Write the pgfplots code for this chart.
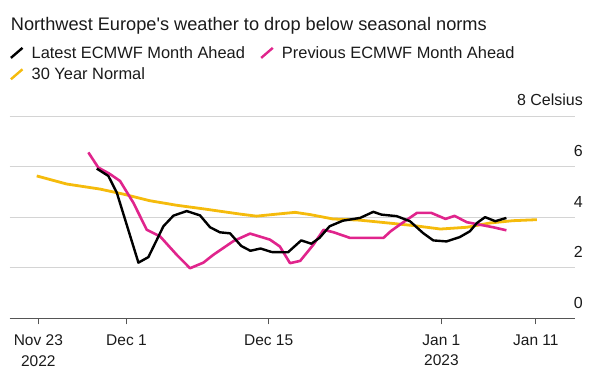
\documentclass[border=0pt]{standalone}
\usepackage{fontspec}
\setmainfont{Liberation Sans}
\usepackage{pgfplots}
\pgfplotsset{compat=1.18}
\definecolor{txt}{HTML}{1A1A1A}
\definecolor{pinkc}{RGB}{224,36,140}
\definecolor{yell}{RGB}{245,187,12}
\definecolor{gridc}{RGB}{212,212,212}
\definecolor{axc}{RGB}{85,85,85}

\pgfplotstableread{
x y
-2.92 5.92
-1.78 5.63
-0.95 4.97
1.18 2.20
2.16 2.42
3.64 3.64
4.63 4.06
5.93 4.24
7.24 4.07
8.23 3.60
9.20 3.40
10.2 3.36
11.3 2.86
12.2 2.67
13.2 2.76
14.3 2.62
15.9 2.61
17.2 3.08
18.2 2.95
19.0 3.18
20.0 3.64
21.3 3.86
23.0 3.97
24.3 4.21
25.1 4.10
26.6 4.04
27.9 3.84
29.2 3.37
30.2 3.08
31.5 3.04
32.8 3.21
33.8 3.44
34.5 3.77
35.3 4.00
36.3 3.84
37.4 3.97
}\latest

\pgfplotstableread{
x y
-3.75 6.56
-2.77 5.96
-1.68 5.72
-0.63 5.43
0.68 4.57
2.00 3.50
3.31 3.24
4.95 2.51
6.26 1.98
7.57 2.20
8.55 2.51
10.52 3.05
12.17 3.35
14.13 3.11
15.1 2.84
16.1 2.18
17.1 2.27
18.4 2.91
19.4 3.50
20.4 3.40
22.0 3.18
25.3 3.18
26.0 3.44
26.9 3.70
28.6 4.17
30.0 4.17
31.4 3.93
32.3 4.05
33.5 3.80
34.8 3.70
36.1 3.60
37.4 3.48
}\previous

\pgfplotstableread{
x y
-8.83 5.63
-5.88 5.31
-2.60 5.11
-0.30 4.91
2.30 4.65
4.95 4.47
7.90 4.31
11.2 4.12
12.8 4.04
14.8 4.12
16.6 4.19
18.1 4.10
20.3 3.93
23.0 3.88
25.0 3.80
28.2 3.67
30.9 3.53
33.5 3.60
35.8 3.77
38.05 3.86
40.4 3.90
}\normal

\begin{document}
\begin{tikzpicture}[x=1pt,y=1pt]
\path[use as bounding box] (0,0) rectangle (595,377);
\node[anchor=base west, inner sep=0, font=\fontsize{18.2}{20}\selectfont, text=txt] at (10.7,346) {Northwest Europe\textquotesingle s weather to drop below seasonal norms};
\begin{axis}[
  at={(9.5pt,58.7pt)}, anchor=south west,
  scale only axis, width=565.5pt, height=202.3pt,
  xmin=-11.51, xmax=44.15, ymin=0, ymax=8,
  axis x line*=bottom, axis y line*=right,
  y axis line style={draw=none},
  x axis line style={draw=axc, line width=1.1pt},
  xtick={-8.67,0,14,31,40.3},
  xticklabels={{Nov 23\\2022},{Dec 1},{Dec 15},{Jan 1\\2023},{Jan 11}},
  xticklabel style={align=center, font=\fontsize{15.5}{20.7}\selectfont, text=txt, inner sep=0pt, anchor=north, yshift=-10pt},
  tick align=outside, major tick length=6pt,
  x tick style={draw=axc, line width=1pt},
  ytick={0,2,4,6,8}, yticklabels={0,2,4,6,8 Celsius},
  y tick style={draw=none},
  yticklabel style={anchor=base east, inner sep=0pt, font=\fontsize{16}{18}\selectfont, text=txt, xshift=2pt, yshift=10pt},
  ymajorgrids, grid style={gridc, line width=0.9pt},
  legend columns=2, legend cell align=left,
  legend style={at={(0,1)}, anchor=north west, xshift=0pt, yshift=72pt, draw=none, fill=none, inner sep=0pt,
    font=\fontsize{16.4}{18}\selectfont, text=txt, row sep=4pt,
    /tikz/every odd column/.append style={column sep=6pt},
    /tikz/every even column/.append style={column sep=13pt}},
  legend image code/.code={\draw[#1, line width=2.4pt] (0pt,-5pt) -- (11.6pt,5pt);},
  line join=round,
]
\addlegendimage{black}
\addlegendentry{Latest ECMWF Month Ahead}
\addlegendimage{pinkc}
\addlegendentry{Previous ECMWF Month Ahead}
\addlegendimage{yell}
\addlegendentry{30 Year Normal}
\addplot[yell, line width=2.8pt, forget plot] table {\normal};
\addplot[pinkc, line width=2.6pt, forget plot] table {\previous};
\addplot[black, line width=2.4pt, forget plot] table {\latest};
\end{axis}
\end{tikzpicture}
\end{document}
